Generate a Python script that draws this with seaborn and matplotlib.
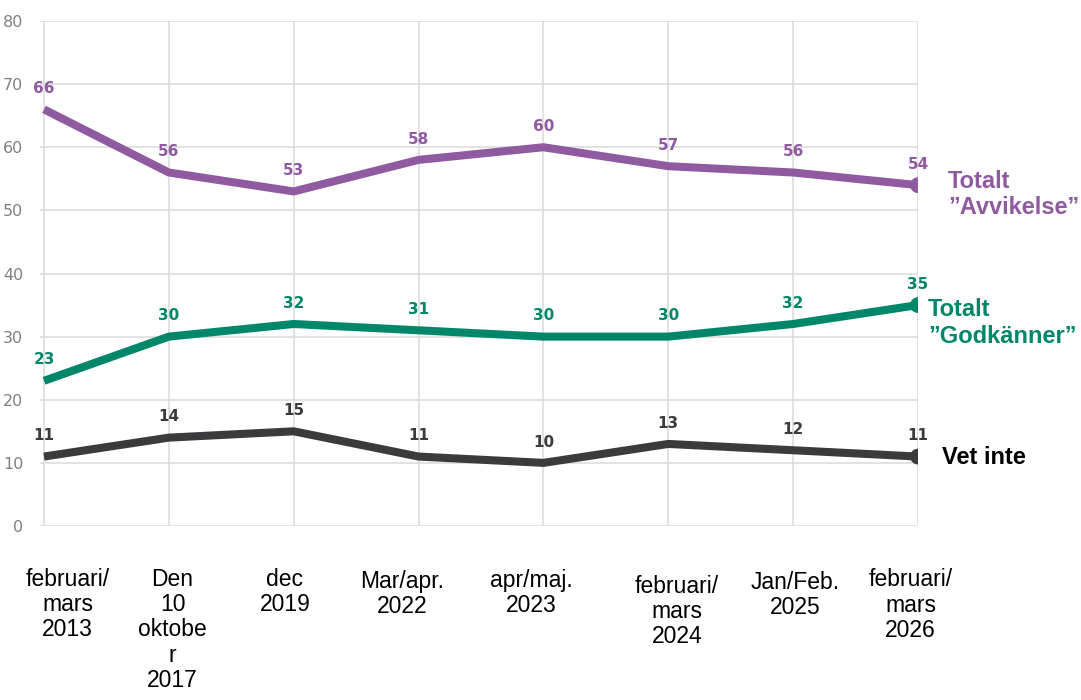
import pandas as pd
import matplotlib.pyplot as plt
import seaborn as sns

periods = ['februari/\nmars\n2013', 'Den\n10\noktobe\nr\n2017', 'dec\n2019', 'Mar/apr.\n2022',
           'apr/maj.\n2023', 'februari/\nmars\n2024', 'Jan/Feb.\n2025', 'februari/\nmars\n2026']
avvikelse = [66, 56, 53, 58, 60, 57, 56, 54]
godkanner = [23, 30, 32, 31, 30, 30, 32, 35]
vet_inte = [11, 14, 15, 11, 10, 13, 12, 11]
series_names = ['Totalt\n\u201dAvvikelse\u201d', 'Totalt\n\u201dGodk\u00e4nner\u201d', 'Vet inte']

colors = ['#8F5A9F', '#00876A', '#3B3B3D']
name_colors = ['#8F5A9F', '#00876A', '#000000']

sns.set_style('white')
plt.rcParams['font.family'] = ['DejaVu Sans']

rows = []
for name, vals in zip(series_names, [avvikelse, godkanner, vet_inte]):
    for i, v in enumerate(vals):
        rows.append({'x': i, 'value': v, 'serie': name})
df = pd.DataFrame(rows)

fig = plt.figure(figsize=(10.81, 7), dpi=100)
ax = fig.add_axes([40 / 1081, 1 - 526 / 700, 878 / 1081, 505 / 700])

sns.lineplot(data=df, x='x', y='value', hue='serie', palette=colors,
             linewidth=5.8, legend=False, ax=ax, solid_capstyle='butt')
last = df[df['x'] == len(periods) - 1]
sns.scatterplot(data=last, x='x', y='value', hue='serie', palette=colors,
                s=130, edgecolor='none', legend=False, ax=ax, zorder=5)

ax.set_xlim(-0.032, 7)
ax.set_ylim(0, 80)
ax.set_yticks(range(0, 81, 10))
ax.set_xticks(range(len(periods)))
ax.set_xticklabels([])
ax.grid(True, color='#DDDDDD', linewidth=1.2)
ax.set_axisbelow(True)
for s in ax.spines.values():
    s.set_visible(False)
ax.tick_params(axis='x', length=6, color='#DDDDDD', width=1.2)
ax.tick_params(axis='y', length=3, color='#DDDDDD', width=1.2, labelsize=11.5,
               labelcolor='#808080', pad=9)
ax.set_xlabel('')
ax.set_ylabel('')

# data labels
for vals, c in zip([avvikelse, godkanner, vet_inte], colors):
    for i, v in enumerate(vals):
        ax.annotate(str(v), (i, v), xytext=(0, 15), textcoords='offset points',
                    ha='center', va='center', fontsize=11, fontweight='bold', color=c)

# series names at the right
name_pos = [(7.24, 52.5), (7.08, 32.2), (7.19, 10.8)]
for name, c, (x, y) in zip(series_names, name_colors, name_pos):
    ax.text(x, y, name, ha='left', va='center', fontsize=17, fontweight='bold',
            color=c, family=['Liberation Sans', 'DejaVu Sans'], linespacing=1.2,
            clip_on=False)

# category labels below the axis
label_dx = [0.19, 0.03, -0.07, -0.13, -0.10, 0.07, 0.02, -0.06]
label_top = [-6.6, -6.6, -6.6, -6.9, -6.8, -7.7, -7.1, -6.7]
for i, lab in enumerate(periods):
    ax.text(i + label_dx[i], label_top[i], lab, ha='center', va='top', fontsize=16.5,
            family=['Liberation Sans', 'DejaVu Sans'], linespacing=1.13,
            color='#000000', clip_on=False)

fig.savefig('out.png', dpi=100)
